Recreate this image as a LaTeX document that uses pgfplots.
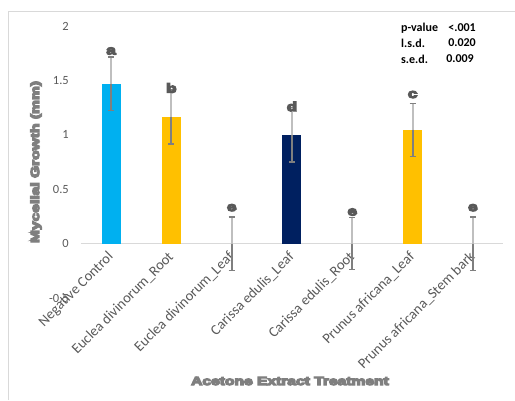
\documentclass[border=0pt]{standalone}
\usepackage{fontspec}
\usepackage{graphicx}
\usepackage{pgfplots}
\pgfplotsset{compat=1.18}
\usepackage{pgfplotstable}
\setmainfont{Carlito}
\newfontfamily\heavy{Liberation Sans Bold}
\definecolor{cblue}{HTML}{00B0F0}
\definecolor{cyel}{HTML}{FFC000}
\definecolor{cnavy}{HTML}{002060}
\definecolor{tickgray}{HTML}{595959}
\definecolor{titlegray}{HTML}{7F7F7F}
\definecolor{errlight}{HTML}{BFBFBF}
\definecolor{errdark}{HTML}{7F7F7F}
\definecolor{linegray}{HTML}{D9D9D9}
\pgfplotstableread{
x y ep en top bot
0 1.47 0.245 -0.245 1.715 1.225
1 1.165 0.248 -0.248 1.413 0.917
2 0 0.245 -0.245 0.245 -0.245
3 1.0 0.25 -0.25 1.25 0.75
4 0 0.24 -0.24 0.24 -0.24
5 1.045 0.243 -0.243 1.288 0.802
6 0 0.245 -0.245 0.245 -0.245
}\errdata
\newcommand{\hvn}[1]{\special{pdf:literal direct 2 Tr 1.1 w}\heavy #1\special{pdf:literal direct 0 Tr}}
\newcommand{\hv}[1]{\scalebox{1.3}[1]{\hvn{#1}}}
\begin{document}
\begin{tikzpicture}
\useasboundingbox (0,0) rectangle (515pt,400pt);
\draw[linegray, line width=1pt] (8pt,0pt) -- (8pt,388pt) -- (515pt,388pt);
\begin{axis}[
  at={(81pt,102pt)}, anchor=south west,
  width=422pt, height=272pt, scale only axis,
  xmin=-0.5, xmax=6.5, ymin=-0.5, ymax=2,
  axis x line=middle, axis y line=left,
  x axis line style={-, draw=linegray, line width=1pt},
  y axis line style={draw=none},
  major tick length=0pt,
  xtick={0,1,2,3,4,5,6},
  xticklabels={Negative Control, Euclea divinorum\_Root, Euclea divinorum\_Leaf, Carissa edulis\_Leaf, Carissa edulis\_Root, Prunus africana\_Leaf, Prunus africana\_Stem bark},
  xticklabel style={yshift=-11pt, rotate=45, anchor=east, inner sep=0pt, font=\fontsize{14.5}{16}\selectfont, text=tickgray},
  ytick={-0.5,0,0.5,1,1.5,2},
  yticklabels={-0.5,0,0.5,1,1.5,2},
  yticklabel style={font=\fontsize{12.5}{14}\selectfont, text=tickgray, anchor=east, inner sep=0pt, xshift=-12pt},
  clip=false,
]
\addplot[ybar, bar width=19pt, bar shift=0pt, fill=cblue, draw=none] coordinates {(0,1.47)};
\addplot[ybar, bar width=19pt, bar shift=0pt, fill=cyel, draw=none] coordinates {(1,1.165)};
\addplot[ybar, bar width=19pt, bar shift=0pt, fill=cnavy, draw=none] coordinates {(3,1.0)};
\addplot[ybar, bar width=19pt, bar shift=0pt, fill=cyel, draw=none] coordinates {(5,1.045)};
% upper error stems
\addplot[forget plot, draw=errlight, line width=2pt, quiver={u=0, v=\thisrow{ep}}] table[x=x, y=y] {\errdata};
% lower error stems
\addplot[forget plot, draw=errdark, line width=2pt, quiver={u=0, v=\thisrow{en}}] table[x=x, y=y] {\errdata};
% caps
\addplot[forget plot, draw=errdark, line width=1.5pt, quiver={u=0.1, v=0}] table[x expr=\thisrow{x}-0.05, y=top] {\errdata};
\addplot[forget plot, draw=errdark, line width=1.5pt, quiver={u=0.1, v=0}] table[x expr=\thisrow{x}-0.05, y=bot] {\errdata};
\node[text=tickgray, font=\fontsize{13}{15}\selectfont, inner sep=0pt] at (axis cs:0,1.77) {\hv{a}};
\node[text=tickgray, font=\fontsize{13}{15}\selectfont, inner sep=0pt] at (axis cs:1,1.43) {\hv{b}};
\node[text=tickgray, font=\fontsize{13}{15}\selectfont, inner sep=0pt] at (axis cs:2,0.33) {\hv{e}};
\node[text=tickgray, font=\fontsize{13}{15}\selectfont, inner sep=0pt] at (axis cs:3,1.26) {\hv{d}};
\node[text=tickgray, font=\fontsize{13}{15}\selectfont, inner sep=0pt] at (axis cs:4,0.29) {\hv{e}};
\node[text=tickgray, font=\fontsize{13}{15}\selectfont, inner sep=0pt] at (axis cs:5,1.37) {\hv{c}};
\node[text=tickgray, font=\fontsize{13}{15}\selectfont, inner sep=0pt] at (axis cs:6,0.33) {\hv{e}};
\end{axis}
\node[rotate=90, xscale=1.3, text=titlegray, font=\fontsize{12}{14}\selectfont, inner sep=0pt] at (36pt,238pt) {\hvn{Mycelial Growth (mm)}};
\node[text=titlegray, font=\fontsize{12}{14}\selectfont, inner sep=0pt] at (290pt,19pt) {\hv{Acetone Extract Treatment}};
\begin{scope}[every node/.style={font=\fontsize{12}{14}\selectfont\bfseries, inner sep=0pt, text=black}]
\node[anchor=west] at (401pt,372pt) {p-value};
\node[anchor=east] at (476pt,372pt) {<.001};
\node[anchor=west] at (401pt,357pt) {l.s.d.};
\node[anchor=east] at (476pt,357pt) {0.020};
\node[anchor=west] at (401pt,341pt) {s.e.d.};
\node[anchor=east] at (474pt,341pt) {0.009};
\end{scope}
\end{tikzpicture}
\end{document}
